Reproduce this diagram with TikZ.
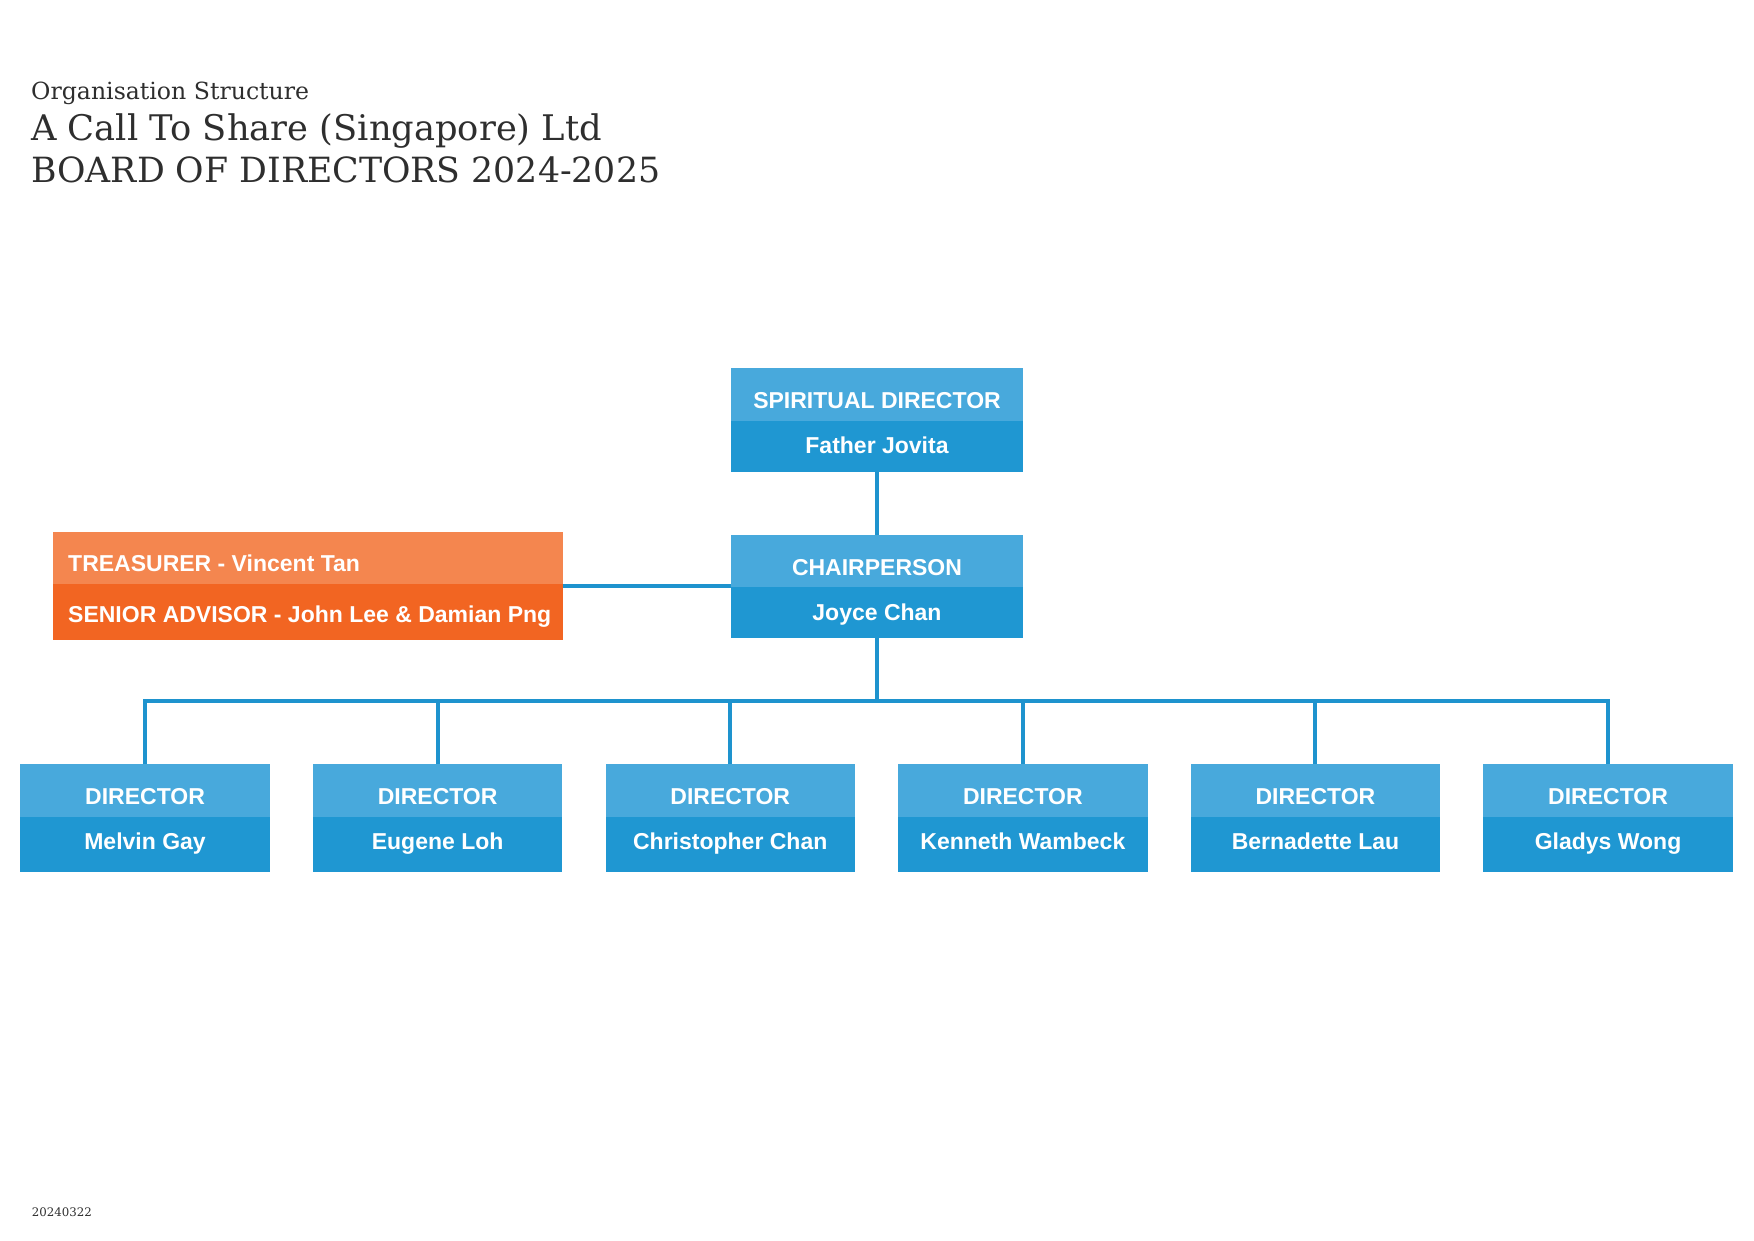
\documentclass[tikz,border=0pt]{standalone}
\usepackage{fontspec}
\setmainfont{DejaVu Serif}
\newfontfamily\boxfont{Liberation Sans}[UprightFont=* Bold]
\usetikzlibrary{calc}
\definecolor{lightblue}{HTML}{48A9DC}
\definecolor{darkblue}{HTML}{1F97D2}
\definecolor{lineblue}{HTML}{1E93CE}
\definecolor{lightorange}{HTML}{F4864F}
\definecolor{darkorange}{HTML}{F26522}
\definecolor{titlegray}{HTML}{2E2E2E}
\begin{document}
\begin{tikzpicture}[x=1pt,y=-1pt,
  bluebox/.style={rectangle, fill=darkblue, inner sep=0pt, outer sep=0pt,
    minimum width=249.5pt, minimum height=107.5pt, anchor=north west},
  bigbox/.style={rectangle, fill=darkblue, inner sep=0pt, outer sep=0pt,
    minimum width=292pt, minimum height=104pt, anchor=north west},
  orangebox/.style={rectangle, fill=darkorange, inner sep=0pt, outer sep=0pt,
    minimum width=510pt, minimum height=108pt, anchor=north west},
  boxtext/.style={text=white, font=\boxfont\fontsize{23}{26}\selectfont, inner sep=0pt, anchor=base},
  conn/.style={draw=lineblue, line width=4pt},
  titletext/.style={text=titlegray, inner sep=0pt, anchor=base west}
]
\useasboundingbox (0,0) rectangle (1754,1240);

% Titles
\node[titletext] (t1) at (31,99.3) {\resizebox{278pt}{!}{\fontsize{24}{28}\selectfont Organisation Structure}};
\node[titletext] (t2) at (31,140.7) {\resizebox{571pt}{!}{\fontsize{36}{42}\selectfont A Call To Share (Singapore) Ltd}};
\node[titletext] (t3) at (31,182.3) {\resizebox{629pt}{!}{\fontsize{36}{42}\selectfont BOARD OF DIRECTORS 2024-2025}};
\node[titletext] (date) at (31.7,1216.7) {\resizebox{60pt}{!}{\fontsize{13}{15}\selectfont 20240322}};

% Spiritual director
\node[bigbox] (sd) at (731,368) {};
\fill[lightblue] (sd.north west) rectangle ($(sd.north east)+(0,53)$);
\node[boxtext] (sdt) at (877,408.3) {SPIRITUAL DIRECTOR};
\node[boxtext] (sdn) at (877,453.3) {Father Jovita};

% Chairperson
\node[bigbox, minimum height=103pt] (ch) at (731,535) {};
\fill[lightblue] (ch.north west) rectangle ($(ch.north east)+(0,52)$);
\node[boxtext] (cht) at (877,575) {CHAIRPERSON};
\node[boxtext] (chn) at (877,620) {Joyce Chan};

% Treasurer / senior advisor
\node[orangebox] (tr) at (52.5,532) {};
\fill[lightorange] (tr.north west) rectangle ($(tr.north east)+(0,52)$);
\node[boxtext, anchor=base west] (trt) at (68,571.7) {TREASURER - Vincent Tan};
\node[boxtext, anchor=base west] (sat) at (68,622.7) {SENIOR ADVISOR - John Lee \& Damian Png};

% Directors
\foreach \i/\nm in {0/Melvin Gay,1/Eugene Loh,2/Christopher Chan,3/Kenneth Wambeck,4/Bernadette Lau,5/Gladys Wong}{
  \pgfmathsetmacro{\xl}{20.3+292.6*\i}
  \pgfmathsetmacro{\xc}{\xl+124.75}
  \node[bluebox] (d\i) at (\xl,764) {};
  \fill[lightblue] (d\i.north west) rectangle ($(d\i.north east)+(0,52.7)$);
  \node[boxtext] (d\i t) at (\xc,804) {DIRECTOR};
  \node[boxtext] (d\i n) at (\xc,849.3) {\nm};
}

% Connectors
\coordinate (bus) at (877,701);
\draw[conn] (sd.south) -- (ch.north);
\draw[conn] (tr.east |- 0,586) -- (ch.west |- 0,586);
\draw[conn] (ch.south) -- (bus);
\draw[conn] (d0.north) -- (d0.north |- bus) -- (d5.north |- bus) -- (d5.north);
\foreach \i in {1,2,3,4}{
  \draw[conn] (d\i.north |- bus) -- (d\i.north);
}
\end{tikzpicture}
\end{document}
